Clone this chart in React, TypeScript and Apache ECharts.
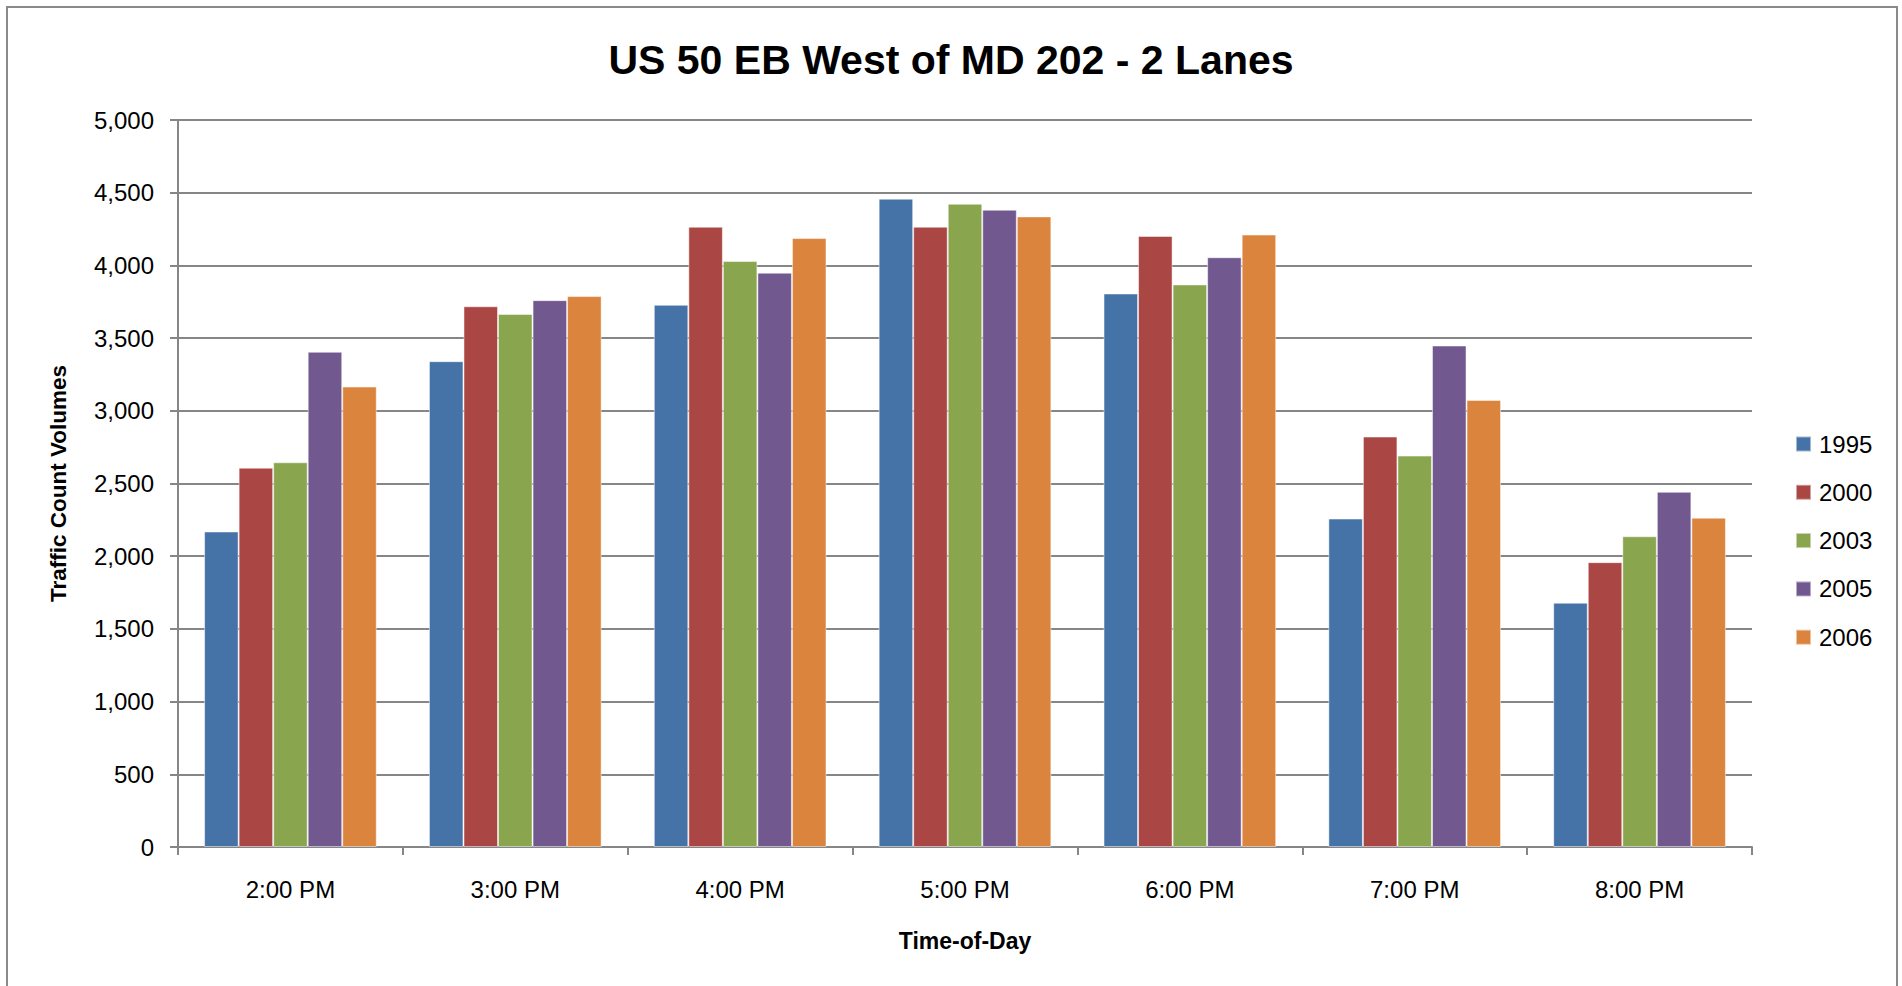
import React, { useEffect, useRef } from "react";
import * as echarts from "echarts";

const categories = ["2:00 PM", "3:00 PM", "4:00 PM", "5:00 PM", "6:00 PM", "7:00 PM", "8:00 PM"];
const years = ["1995", "2000", "2003", "2005", "2006"];
const v1995 = [2170, 3341, 3729, 4459, 3807, 2259, 1680];
const v2000 = [2609, 3719, 4266, 4266, 4203, 2823, 1959];
const v2003 = [2646, 3666, 4030, 4424, 3869, 2692, 2137];
const v2005 = [3406, 3761, 3950, 4383, 4056, 3449, 2443];
const v2006 = [3167, 3789, 4188, 4337, 4212, 3075, 2265];
const seriesValues = [v1995, v2000, v2003, v2005, v2006];
const colors = ["#4572A7", "#AA4643", "#89A54E", "#71588F", "#DB843D"];
const yTicks = { min: 0, max: 5000, interval: 500 };

const FONT = "'Liberation Sans', Arial, sans-serif";

export default function App() {
  const ref = useRef<HTMLDivElement>(null);
  useEffect(() => {
    document.body.style.margin = "0";
    const chart = echarts.init(ref.current!, undefined, { renderer: "svg" });
    chart.setOption({
      animation: false,
      backgroundColor: "#ffffff",
      title: {
        text: "US 50 EB West of MD 202 - 2 Lanes",
        left: "center",
        top: 34,
        textStyle: { fontFamily: FONT, fontSize: 41, fontWeight: "bold", color: "#000" },
      },
      graphic: [
        {
          type: "rect",
          shape: { x: 7, y: 7, width: 1890, height: 1000 },
          style: { fill: "none", stroke: "#8a8a8a", lineWidth: 2 },
          silent: true,
        },
      ],
      legend: {
        orient: "vertical",
        left: 1795,
        top: 432,
        padding: 0,
        itemWidth: 15,
        itemHeight: 15,
        itemGap: 24.3,
        icon: "rect",
        textStyle: { fontFamily: FONT, fontSize: 24, color: "#000", lineHeight: 24, padding: [0, 0, 0, 3] },
        data: years,
      },
      grid: { left: 178, right: 150, top: 120, bottom: 139, containLabel: false },
      xAxis: {
        type: "category",
        data: categories,
        name: "Time-of-Day",
        nameLocation: "middle",
        nameGap: 82,
        nameTextStyle: { fontFamily: FONT, fontSize: 23, fontWeight: "bold", color: "#000" },
        axisLine: { lineStyle: { color: "#868686", width: 2 } },
        axisTick: { show: true, length: 8, lineStyle: { color: "#868686", width: 2 } },
        axisLabel: { fontFamily: FONT, fontSize: 24, color: "#000", margin: 30 },
      },
      yAxis: {
        type: "value",
        min: yTicks.min,
        max: yTicks.max,
        interval: yTicks.interval,
        name: "Traffic Count Volumes",
        nameLocation: "middle",
        nameGap: 108,
        nameRotate: 90,
        nameTextStyle: { fontFamily: FONT, fontSize: 22.5, fontWeight: "bold", color: "#000" },
        axisLine: { show: true, lineStyle: { color: "#868686", width: 2 } },
        axisTick: { show: true, length: 8, lineStyle: { color: "#868686", width: 2 } },
        axisLabel: {
          fontFamily: FONT,
          fontSize: 24,
          color: "#000",
          margin: 24,
          formatter: (v: number) => v.toLocaleString("en-US"),
        },
        splitLine: { show: true, lineStyle: { color: "#868686", width: 2 } },
      },
      series: years.map((y, i) => ({
        name: y,
        type: "bar",
        data: seriesValues[i],
        barGap: "0%",
        barCategoryGap: "23.2%",
        itemStyle: { color: colors[i], borderColor: "rgba(255,255,255,0.5)", borderWidth: 1 },
      })),
    });
    return () => chart.dispose();
  }, []);
  return <div ref={ref} style={{ position: "fixed", left: 0, top: 0, width: 1902, height: 986 }} />;
}
